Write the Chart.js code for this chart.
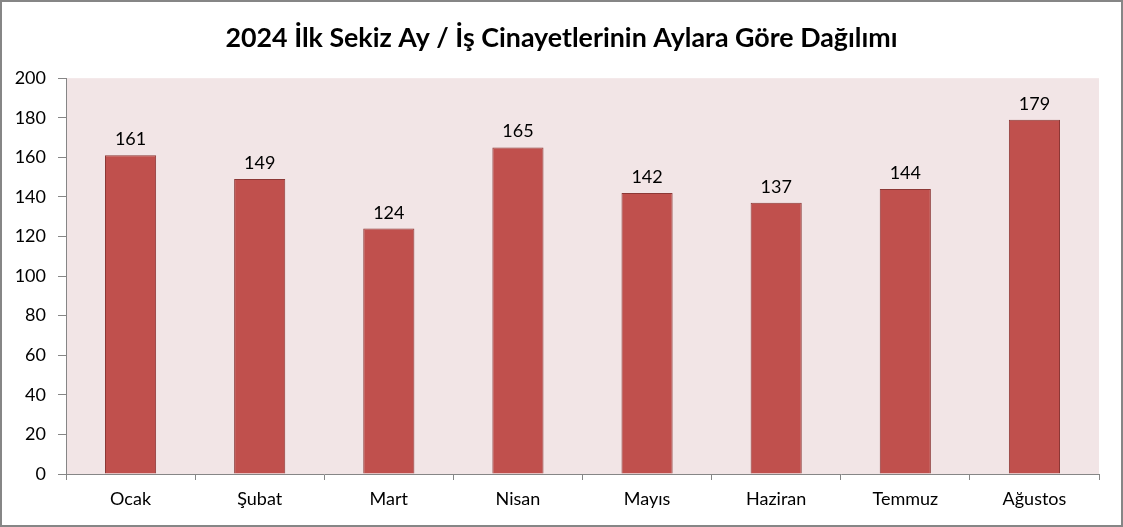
<!DOCTYPE html>
<html><head><meta charset="utf-8">
<script src="https://cdn.jsdelivr.net/npm/chart.js@4.4.1/dist/chart.umd.min.js"></script>
<style>html,body{margin:0;padding:0;background:#fff;}#wrap{width:1123px;height:527px;position:relative;}</style>
</head><body>
<div id="wrap"><canvas id="c" width="1123" height="527"></canvas></div>
<script>
const titleText = "2024 İlk Sekiz Ay / İş Cinayetlerinin Aylara Göre Dağılımı";
const months = ["Ocak","Şubat","Mart","Nisan","Mayıs","Haziran","Temmuz","Ağustos"];
const values = [161,149,124,165,142,137,144,179];
const yMin = 0, yMax = 200, yStep = 20;

const FONT = "Lato, 'Open Sans', sans-serif";

const bgPlugin = {
  id: 'bg',
  beforeDraw(chart) {
    const {ctx, chartArea: a} = chart;
    ctx.save();
    ctx.fillStyle = '#fff';
    ctx.fillRect(0,0,chart.width,chart.height);
    ctx.fillStyle = '#F2E5E6';
    ctx.fillRect(a.left, a.top, a.right - a.left, a.bottom - a.top);
    ctx.restore();
  },
  afterDraw(chart) {
    const {ctx} = chart;
    ctx.save();
    ctx.strokeStyle = '#868686';
    ctx.lineWidth = 2;
    ctx.strokeRect(1,1,chart.width-2,chart.height-2);
    ctx.restore();
  }
};

const labelPlugin = {
  id: 'vals',
  afterDatasetsDraw(chart) {
    const {ctx} = chart;
    const meta = chart.getDatasetMeta(0);
    ctx.save();
    ctx.font = "18px " + FONT;
    ctx.fillStyle = '#000';
    ctx.textAlign = 'center';
    ctx.textBaseline = 'alphabetic';
    meta.data.forEach((bar, i) => {
      ctx.fillText(String(values[i]), bar.x, bar.y - 10);
    });
    ctx.restore();
  }
};

new Chart(document.getElementById('c'), {
  type: 'bar',
  data: {
    labels: months,
    datasets: [{
      data: values,
      backgroundColor: '#C0504D',
      borderColor: '#8C3836',
      borderWidth: 1,
      barPercentage: 0.8,
      categoryPercentage: 0.495
    }]
  },
  options: {
    responsive: false,
    animation: false,
    devicePixelRatio: 1,
    layout: { padding: { left: 0, right: 0, top: 0, bottom: 0 } },
    plugins: {
      legend: { display: false },
      tooltip: { enabled: false },
      title: {
        display: true,
        text: titleText,
        color: '#000',
        font: { family: FONT, size: 26.8, weight: 'bold' },
        padding: { top: 22, bottom: 24 }
      }
    },
    scales: {
      x: {
        offset: true,
        grid: { display: true, drawOnChartArea: false, offset: true, tickLength: 6, color: '#868686' },
        border: { display: true, color: '#868686', width: 1 },
        ticks: { color: '#000', font: { family: FONT, size: 18 }, padding: 8, maxRotation: 0 },
        afterFit(s) { s.height = 53; }
      },
      y: {
        min: yMin, max: yMax,
        grid: { display: true, drawOnChartArea: false, tickLength: 8, color: '#868686' },
        border: { display: true, color: '#868686', width: 1 },
        ticks: { stepSize: yStep, color: '#000', font: { family: FONT, size: 18 }, padding: 12 },
        afterFit(s) { s.width = 66; }
      },
      ySpacer: {
        position: 'right',
        display: true,
        grid: { display: false },
        border: { display: false },
        ticks: { display: false },
        afterFit(s) { s.width = 24; }
      }
    }
  },
  plugins: [bgPlugin, labelPlugin]
});
</script>
</body></html>
